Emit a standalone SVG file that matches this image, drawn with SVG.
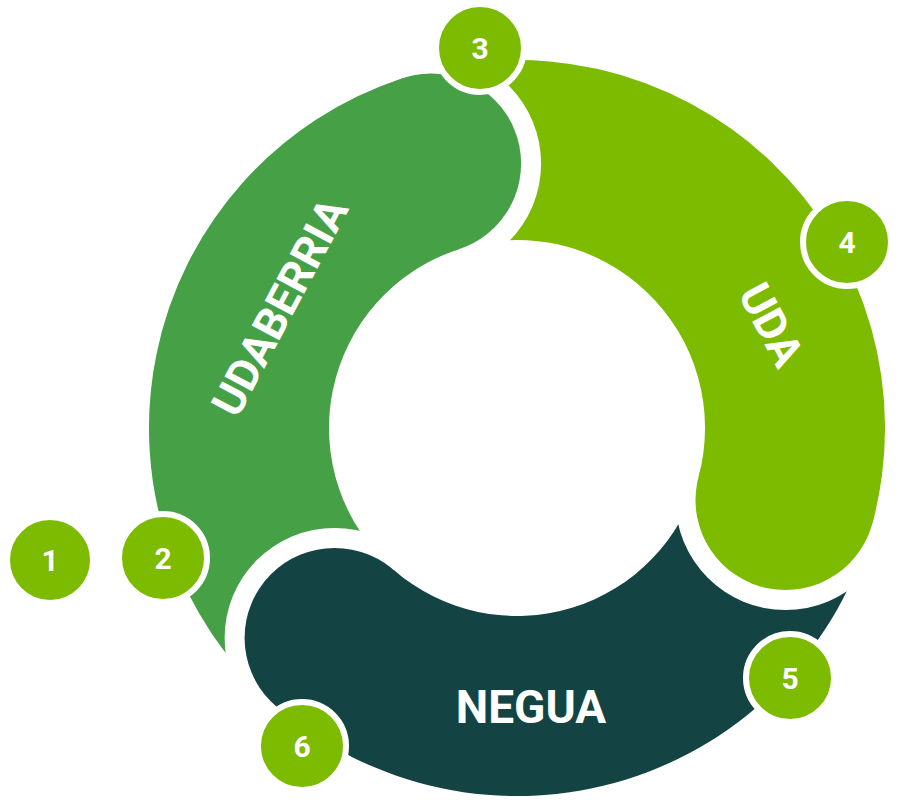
<svg xmlns="http://www.w3.org/2000/svg" width="898" height="801" viewBox="0 0 898 801">
<style>
.lbl{font-family:Roboto,"Liberation Sans",sans-serif;font-weight:bold;fill:#fff;text-anchor:middle}
.num circle{fill:#7dbb00;stroke:#fff;stroke-width:6}
.num text{font-family:Roboto,"Liberation Sans",sans-serif;font-weight:bold;font-size:30px;fill:#fff;text-anchor:middle}
</style>
<defs>
<mask id="mG" maskUnits="userSpaceOnUse" x="0" y="0" width="898" height="801"><rect width="898" height="801" fill="#fff"/><circle cx="334.6" cy="637.9" r="110" fill="#000"/></mask>
<mask id="mU" maskUnits="userSpaceOnUse" x="0" y="0" width="898" height="801"><rect width="898" height="801" fill="#fff"/><circle cx="431.1" cy="163.6" r="110" fill="#000"/></mask>
<mask id="mN" maskUnits="userSpaceOnUse" x="0" y="0" width="898" height="801"><rect width="898" height="801" fill="#fff"/><circle cx="785.5" cy="500" r="110" fill="#000"/></mask>
</defs>
<g id="udaberria" fill="#46a046" mask="url(#mG)">
<path d="M275.6 705.8 A368 368 0 0 1 403.3 78 L458.9 249.2 A188 188 0 0 0 393.7 569.9 Z"/>
<circle cx="431.1" cy="163.6" r="90"/>
</g>
<g id="uda" fill="#7dbb00" mask="url(#mU)">
<path d="M403.3 78 A368 368 0 0 1 872.5 523.2 L698.6 476.7 A188 188 0 0 0 458.9 249.2 Z"/>
<circle cx="785.5" cy="500" r="90"/>
</g>
<g id="negua" fill="#134443" mask="url(#mN)">
<path d="M872.5 523.2 A368 368 0 0 1 275.6 705.8 L393.7 569.9 A188 188 0 0 0 698.6 476.7 Z"/>
<circle cx="334.6" cy="637.9" r="90"/>
</g>
<text class="lbl" font-size="44" transform="translate(280,307) rotate(-62)" dy="15">UDABERRIA</text>
<text class="lbl" font-size="44" transform="translate(771,325) rotate(62)" dy="15">UDA</text>
<text class="lbl" font-size="46" x="531" y="723">NEGUA</text>
<g id="n1" class="num"><circle cx="50" cy="560" r="43" stroke="none"/><text x="50" y="571">1</text></g>
<g id="n2" class="num"><circle cx="163" cy="558" r="44"/><text x="163" y="569">2</text></g>
<g id="n3" class="num"><circle cx="480" cy="48" r="44"/><text x="480" y="59">3</text></g>
<g id="n4" class="num"><circle cx="847" cy="242" r="44"/><text x="847" y="253">4</text></g>
<g id="n5" class="num"><circle cx="790" cy="678" r="44"/><text x="790" y="689">5</text></g>
<g id="n6" class="num"><circle cx="302" cy="746" r="44"/><text x="302" y="757">6</text></g>
</svg>
